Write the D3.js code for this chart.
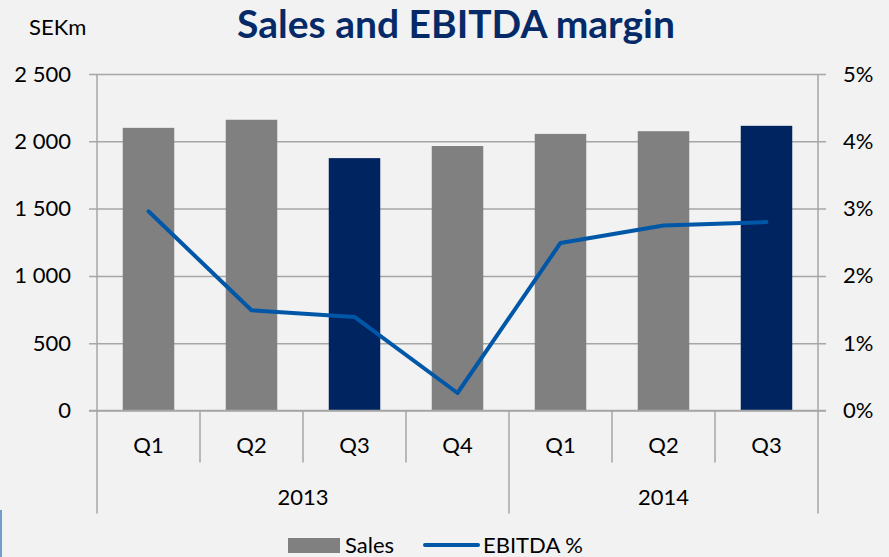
<!DOCTYPE html>
<html>
<head>
<meta charset="utf-8">
<script src="https://cdn.jsdelivr.net/npm/d3@7"></script>
<style>
	body { margin: 0; background: #f2f2f2; }
	svg { display: block; font-family: Lato, "Open Sans", sans-serif; }
</style>
</head>
<body>
<div id="chart"></div>
<script>
// data
const quarters = ['Q1', 'Q2', 'Q3', 'Q4', 'Q1', 'Q2', 'Q3'];
const years = [{ label: '2013', from: 0, to: 4 }, { label: '2014', from: 4, to: 7 }];
const sales = [2100, 2160, 1875, 1965, 2055, 2075, 2115];
const ebitda = [2.96, 1.49, 1.39, 0.26, 2.49, 2.75, 2.8];
const highlight = [false, false, true, false, false, false, true];
const salesTicks = [0, 500, 1000, 1500, 2000, 2500];
const pctTicks = [0, 1, 2, 3, 4, 5];

const W = 889;
const H = 557;
const marginLeft = 97;
const marginRight = 71;
const marginTop = 74;
const plotH = 336.5;

const NAVY = '#00245f';
const GREY = '#808080';
const LINE = '#0057a8';
const GRID = '#a6a6a6';
const FONT_SIZE = 22;

const width = W - marginLeft - marginRight;

const scaleX = d3.scaleBand().domain(d3.range(quarters.length)).range([0, width]);
const scaleY = d3.scaleLinear().domain([0, 2500]).range([plotH, 0]);
const scaleP = d3.scaleLinear().domain([0, 5]).range([plotH, 0]);

const fmt = d => d3.format(',')(d).replace(',', ' ');

const $svg = d3.select('#chart').append('svg')
	.attr('width', W)
	.attr('height', H);

$svg.append('rect').attr('width', W).attr('height', H).attr('fill', '#f2f2f2');

// little blue frame edge at bottom-left
$svg.append('line')
	.attr('x1', 1).attr('x2', 1).attr('y1', 510).attr('y2', H)
	.attr('stroke', '#4a7ebb').attr('stroke-width', 1.5);

// title
$svg.append('text')
	.attr('x', 456).attr('y', 38)
	.attr('text-anchor', 'middle')
	.attr('font-size', 39).attr('font-weight', 'bold')
	.attr('fill', '#062a68')
	.text('Sales and EBITDA margin');

$svg.append('text')
	.attr('x', 29).attr('y', 35)
	.attr('font-size', FONT_SIZE)
	.attr('fill', '#000')
	.text('SEKm');

const $g = $svg.append('g').attr('transform', `translate(${marginLeft}, ${marginTop})`);

// left axis, gridlines across
const axisY = d3.axisLeft(scaleY).tickValues(salesTicks).tickSize(-width - 8).tickFormat(fmt).tickPadding(18);
const $ay = $g.append('g').attr('transform', 'translate(-8, 0)').call(axisY);
$ay.select('.domain').remove();
$ay.selectAll('line').attr('stroke', GRID).attr('stroke-width', 1.5).attr('x2', width + 16);
$ay.selectAll('text').attr('font-size', FONT_SIZE).attr('fill', '#000').attr('font-family', 'Lato, sans-serif');

// right axis
const axisP = d3.axisRight(scaleP).tickValues(pctTicks).tickSize(0).tickFormat(d => d + '%').tickPadding(25);
const $ap = $g.append('g').attr('transform', `translate(${width}, 0)`).call(axisP);
$ap.select('.domain').remove();
$ap.selectAll('text').attr('font-size', FONT_SIZE).attr('fill', '#000').attr('font-family', 'Lato, sans-serif');

// vertical axis lines
$g.append('line').attr('x1', 0).attr('x2', 0).attr('y1', 0).attr('y2', plotH + 103)
	.attr('stroke', GRID).attr('stroke-width', 1.5);
$g.append('line').attr('x1', width).attr('x2', width).attr('y1', 0).attr('y2', plotH + 103)
	.attr('stroke', GRID).attr('stroke-width', 1.5);

// bars
const barW = scaleX.bandwidth() * 0.5;
$g.append('g').selectAll('rect')
	.data(sales)
	.join('rect')
	.attr('x', (d, i) => scaleX(i) + (scaleX.bandwidth() - barW) / 2)
	.attr('y', d => scaleY(d))
	.attr('width', barW)
	.attr('height', d => plotH - scaleY(d))
	.attr('fill', (d, i) => highlight[i] ? NAVY : GREY);

// category axis
const $cat = $g.append('g').attr('transform', `translate(0, ${plotH})`);
$cat.append('line').attr('x1', -8).attr('x2', width + 8).attr('stroke', GRID).attr('stroke-width', 1.5);
$cat.selectAll('line.div')
	.data(d3.range(1, quarters.length))
	.join('line')
	.attr('class', 'div')
	.attr('x1', i => scaleX(i)).attr('x2', i => scaleX(i))
	.attr('y1', 0)
	.attr('y2', i => years.some(y => y.from === i) ? 103 : 52)
	.attr('stroke', GRID).attr('stroke-width', 1.5);
$cat.selectAll('text.q')
	.data(quarters)
	.join('text')
	.attr('class', 'q')
	.attr('x', (d, i) => scaleX(i) + scaleX.bandwidth() / 2)
	.attr('y', 42)
	.attr('text-anchor', 'middle')
	.attr('font-size', FONT_SIZE)
	.text(d => d);
$cat.selectAll('text.yr')
	.data(years)
	.join('text')
	.attr('class', 'yr')
	.attr('x', d => (scaleX(d.from) + (d.to === quarters.length ? width : scaleX(d.to))) / 2)
	.attr('y', 94)
	.attr('text-anchor', 'middle')
	.attr('font-size', FONT_SIZE)
	.text(d => d.label);

// EBITDA line
const line = d3.line()
	.x((d, i) => scaleX(i) + scaleX.bandwidth() / 2)
	.y(d => scaleP(d));
$g.append('path')
	.datum(ebitda)
	.attr('d', line)
	.attr('fill', 'none')
	.attr('stroke', LINE)
	.attr('stroke-width', 4)
	.attr('stroke-linecap', 'round')
	.attr('stroke-linejoin', 'round');

// legend
const $leg = $svg.append('g').attr('transform', 'translate(0, 545)');
$leg.append('rect').attr('x', 288).attr('y', -7).attr('width', 52).attr('height', 15).attr('fill', GREY);
$leg.append('text').attr('x', 345).attr('y', 8).attr('font-size', FONT_SIZE).text('Sales');
$leg.append('line').attr('x1', 425).attr('x2', 478).attr('y1', 0).attr('y2', 0)
	.attr('stroke', LINE).attr('stroke-width', 4).attr('stroke-linecap', 'round');
$leg.append('text').attr('x', 483).attr('y', 8).attr('font-size', FONT_SIZE).text('EBITDA %');
</script>
</body>
</html>
